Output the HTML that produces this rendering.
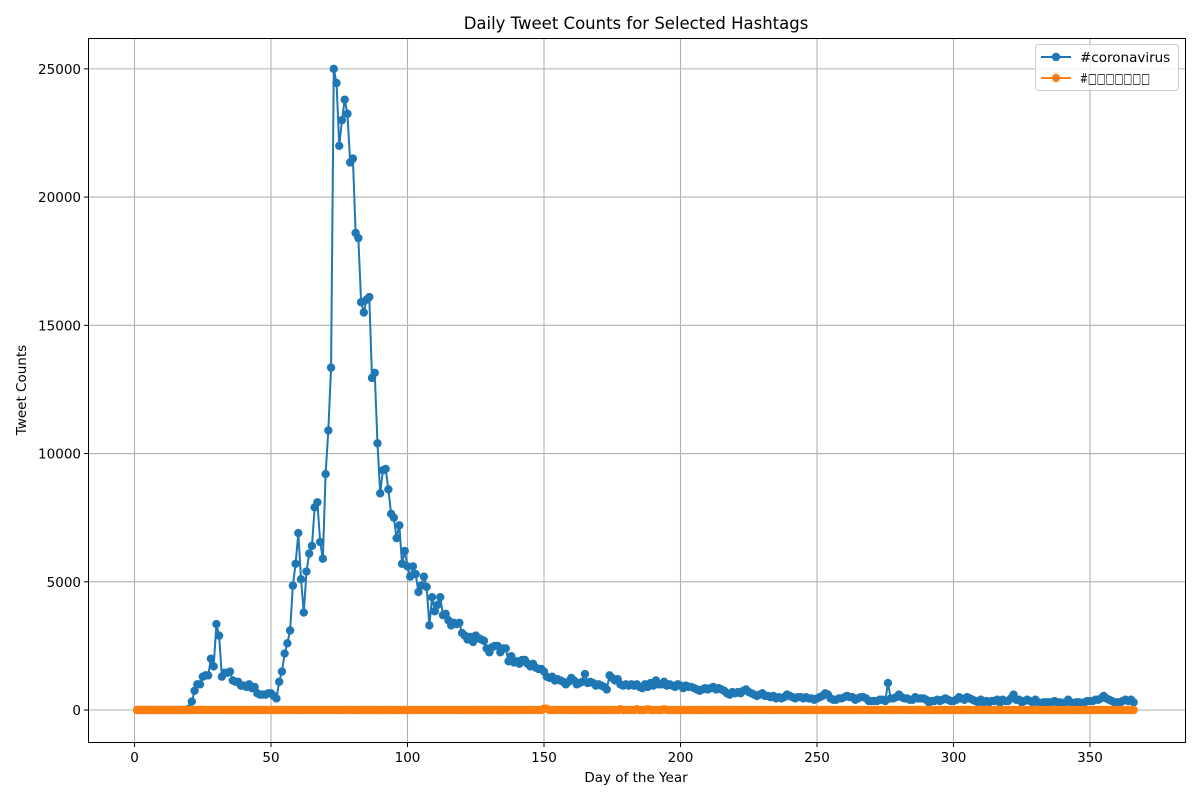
<!DOCTYPE html>
<html><head><meta charset="utf-8"><title>Daily Tweet Counts</title>
<style>
html,body{margin:0;padding:0;background:#fff;}
svg text{font-family:"DejaVu Sans","Liberation Sans",sans-serif;fill:#000;}
</style></head>
<body>
<svg id="chart" width="1200" height="800" viewBox="0 0 1200 800" xmlns="http://www.w3.org/2000/svg">
<rect width="1200" height="800" fill="#fff"/>
<g id="grid"></g>
<g id="series"></g>
<rect x="88.5" y="38.5" width="1097" height="704" fill="none" stroke="#000" stroke-width="1"/>
<g id="ticks"></g>
<text x="636" y="29" font-size="16.5" text-anchor="middle">Daily Tweet Counts for Selected Hashtags</text>
<text x="636" y="782" font-size="13.5" text-anchor="middle">Day of the Year</text>
<text x="26" y="390" font-size="13.5" text-anchor="middle" transform="rotate(-90 26 390)">Tweet Counts</text>
<g>
<rect x="1035.5" y="44.5" width="143" height="46" rx="3" fill="#fff" fill-opacity="0.8" stroke="#ccc"/>
<g>
<line x1="1041" y1="57" x2="1071" y2="57" stroke="#1f77b4" stroke-width="2"/>
<circle cx="1056" cy="57" r="4.2" fill="#1f77b4"/>
<text x="1080" y="62" font-size="13.5">#coronavirus</text></g>
<g>
<line x1="1041" y1="78" x2="1071" y2="78" stroke="#ff7f0e" stroke-width="2"/>
<circle cx="1056" cy="78" r="4.2" fill="#ff7f0e"/>
<text x="1080" y="83" font-size="13.5" textLength="70" lengthAdjust="spacingAndGlyphs">#□□□□□□□</text></g>
</g>
</svg>
<script>
const xTicks = [0,50,100,150,200,250,300,350];
const yTicks = [0,5000,10000,15000,20000,25000];
const coronaA = [0,0,0,0,0,0,0,0,0,0,0,0,0,0,0,0,0,0,0,50,
330,750,1000,1000,1300,1350,1350,2000,1700,3350,2900,1300,1450,1450,1500,1150,1100,1100,950,950,
900,1000,850,900,650,600,600,600,650,650,550,450,1100,1500,2200,2600,3100,4850,5700,6900,
5100,3800,5400,6100,6400,7900,8100,6550,5900,9200,10900,13350,25000,24450,22000,23000,23800,23250,21350,21500,
18600,18400,15900,15500,16000,16100,12950,13150,10400,8450,9350,9400,8600,7650,7500,6700,7200,5700,6200,5600,
5200,5600,5300,4600,4850,5200,4800,3300,4400,3850,4100,4400,3700,3750,3500,3300,3400,3350,3400,3000,
2900,2750,2850,2650,2900,2800,2750,2700,2400,2250,2450,2500,2500,2250,2400,2400,1900,2100,1850,1900,
1800,1950,1950,1800,1700,1800,1650,1600,1600,1500,1300,1250,1300,1150,1200,1150,1100,1000,1100,1250,
1150,1000,1050,1100,1400,1050,1100,1050,950,1000,950,900,800,1350,1250,1150,1200,1000,950];
const coronaB = [1000,950,1000,950,1000,900,850,1000,900,1050,950,1150,1000,1000,1100,950,1000,950,900,1000,
950,850,950,900,900,850,800,750,800,850,800,850,900,800,850,800,750,650,600,700,
650,700,650,750,800,700,650,600,550,600,650,550,550,500,550,450,500,450,500,600,
550,500,450,500,500,450,500,450,450,400,450,500,550,650,600,450,400,400,450,450,
500,550,500,500,400,450,500,500,450,350,350,350,350,400,400,350,1050,450,450,500,
600,500,450,450,400,400,500,450,450,450,400,300,350,350,400,350,400,450,400,350,
350,400,500,450,400,500,450,400,350,300,400,300,350,300,350,350,400,300,400,350,
350,450,600,400,400,300,350,400,350,300,400,300,250,300,300,300,300,350,300,300,
250,300,400,300,250,300,300,250,300,350,350,350,400,400,450,550,450,400,350,300,
300,300,350,400,350,400,300];
const coronaVals = coronaA.concat(coronaB);
const days = coronaVals.map((v,i)=>i+1);
const secondVals = days.map(d => (d===150||d===151)?50:(d===178||d===184||d===188||d===194)?30:0);

const NS="http://www.w3.org/2000/svg";
const xS = d => 134.5 + d*2.730;
const yS = v => 710 - v*0.025645;
function mk(tag, attrs, parent){const e=document.createElementNS(NS,tag);for(const k in attrs)e.setAttribute(k,attrs[k]);parent.appendChild(e);return e;}
const grid=document.getElementById('grid'), ticks=document.getElementById('ticks'), series=document.getElementById('series');
xTicks.forEach(t=>{
  const x=xS(t);
  const g=mk('line',{x1:x,y1:38.5,x2:x,y2:742.5,stroke:'#b0b0b0','stroke-width':1.1},grid);
  
  
  const tk=mk('line',{x1:x,y1:742.5,x2:x,y2:747,stroke:'#000'},ticks);
  
  
  const lb=mk('text',{x:x,y:762,'font-size':13.5,'text-anchor':'middle'},ticks);
  lb.textContent=t;
  
  
});
yTicks.forEach(t=>{
  const y=yS(t);
  const g=mk('line',{x1:88.5,y1:y,x2:1185.5,y2:y,stroke:'#b0b0b0','stroke-width':1.1},grid);
  
  
  const tk=mk('line',{x1:84,y1:y,x2:88.5,y2:y,stroke:'#000'},ticks);
  
  
  const lb=mk('text',{x:81,y:y+5,'font-size':13.5,'text-anchor':'end'},ticks);
  lb.textContent=t;
  
  
});
function drawSeries(vals,color,name){
  const g=mk('g',{},series);
  
  
  const pts=vals.map((v,i)=>xS(days[i]).toFixed(2)+','+yS(v).toFixed(2)).join(' ');
  const pl=mk('polyline',{points:pts,fill:'none',stroke:color,'stroke-width':2,'stroke-linejoin':'round'},g);
  
  
  vals.forEach((v,i)=>{
    const c=mk('circle',{cx:xS(days[i]),cy:yS(v),r:4.2,fill:color},g);
    
    
  });
}
drawSeries(coronaVals,'#1f77b4','coronavirus-series');
drawSeries(secondVals,'#ff7f0e','second-hashtag-series');
</script>
</body></html>
